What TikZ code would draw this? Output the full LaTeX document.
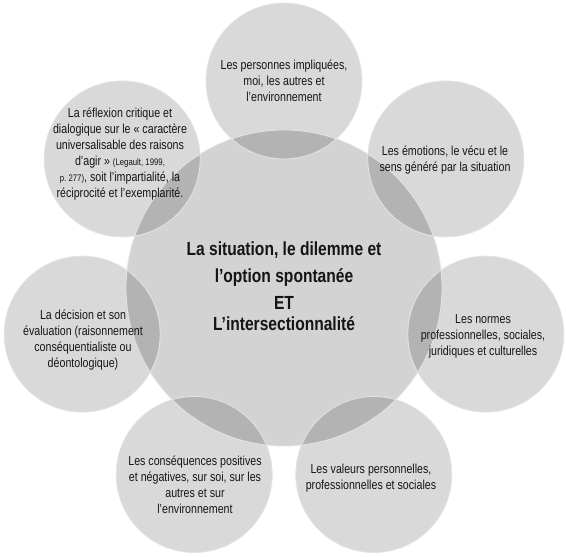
\documentclass[tikz,border=0pt]{standalone}
\usepackage{fontspec}
\setmainfont{Liberation Sans}[FakeStretch=0.82]
\definecolor{satfill}{HTML}{D9D9D9}
\definecolor{cenfill}{HTML}{D3D3D3}
\definecolor{overfill}{HTML}{B3B3B3}
\definecolor{rimcol}{HTML}{E4E4E4}
\definecolor{txt}{HTML}{151515}
\begin{document}
\begin{tikzpicture}[x=1pt,y=-1pt,
  sattext/.style={align=center, text=txt, font=\fontsize{13}{16}\selectfont, inner sep=0pt},
  centext/.style={align=center, text=txt, font=\bfseries\fontsize{19}{27}\selectfont, inner sep=0pt},
  rim/.style={draw=rimcol, line width=0.8pt}]
\useasboundingbox (0,0) rectangle (566,557);
\fill[white] (0,0) rectangle (566,557);
\coordinate (c) at (284,288);
\coordinate (s0) at (284,81);
\coordinate (s1) at (445.8,158.9);
\coordinate (s2) at (485.8,334.1);
\coordinate (s3) at (373.8,474.5);
\coordinate (s4) at (194.2,474.5);
\coordinate (s5) at (82.2,334.1);
\coordinate (s6) at (122.2,158.9);
% discs
\fill[cenfill] (c) circle[radius=158pt];
\foreach \s in {s0,s1,s2,s3,s4,s5,s6} \fill[satfill] (\s) circle[radius=78pt];
% overlaps
\begin{scope}
  \clip (c) circle[radius=158pt];
  \foreach \s in {s0,s1,s2,s3,s4,s5,s6} \fill[overfill] (\s) circle[radius=78pt];
\end{scope}
% rims
\draw[rim] (c) circle[radius=158pt];
\foreach \s in {s0,s1,s2,s3,s4,s5,s6} \draw[rim] (\s) circle[radius=78pt];
% texts
\node[centext] (tc) at (284,286) {La situation, le dilemme et\\ l’option spontanée\\ ET\\[-6pt] L’intersectionnalité};
\node[sattext] (t0) at (284,81) {Les personnes impliquées,\\ moi, les autres et\\ l’environnement};
\node[sattext] (t1) at (445,160) {Les émotions, le vécu et le\\ sens généré par la situation};
\node[sattext] (t2) at (483,336) {Les normes\\ professionnelles, sociales,\\ juridiques et culturelles};
\node[sattext] (t3) at (371,478) {Les valeurs personnelles,\\ professionnelles et sociales};
\node[sattext] (t4) at (195,485) {Les conséquences positives\\ et négatives, sur soi, sur les\\ autres et sur\\ l’environnement};
\node[sattext] (t5) at (83,340) {La décision et son\\ évaluation (raisonnement\\ conséquentialiste ou\\ déontologique)};
\node[sattext] (t6) at (120,154) {La réflexion critique et\\ dialogique sur le «~caractère\\ universalisable des raisons\\ d’agir~» {\fontsize{9.5}{16}\selectfont(Legault, 1999,}\\ {\fontsize{9.5}{16}\selectfont p.~277)}, soit l’impartialité, la\\ réciprocité et l’exemplarité.};
\end{tikzpicture}
\end{document}
